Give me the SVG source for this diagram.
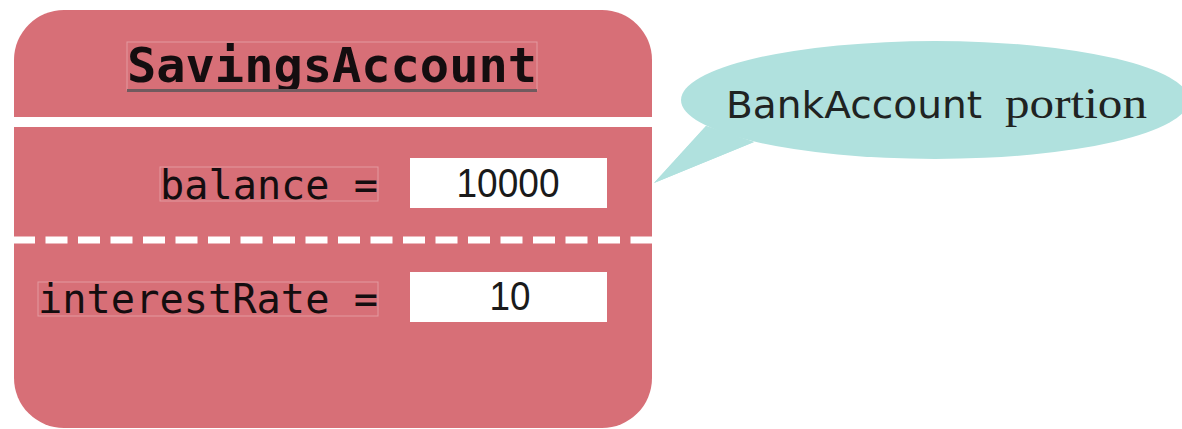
<svg xmlns="http://www.w3.org/2000/svg" width="1182" height="429" viewBox="0 0 1182 429">
<style>
.mono{font-family:"DejaVu Sans Mono","Liberation Mono",monospace;fill:#140d0f}
.val{font-family:"Liberation Sans","DejaVu Sans",sans-serif;fill:#1a1a1a;text-anchor:middle}
.tbox{fill:none;stroke:#e39aa0;stroke-width:1}
.vbox{fill:#ffffff}
</style>
<rect width="1182" height="429" fill="#ffffff"/>
<g id="connectors">
<path d="M706,126 L654,183 L754,142 Z" fill="#b0e1de"/>
</g>
<g id="bubble">
<ellipse cx="935" cy="100" rx="254" ry="59" fill="#b0e1de"/>
<path d="M706,126 L654,183 L754,142 Z" fill="#b0e1de"/>
<text x="726" y="118" font-family="DejaVu Sans, Liberation Sans, sans-serif" font-size="38" fill="#1f2322" textLength="256" lengthAdjust="spacingAndGlyphs">BankAccount</text>
<text x="1005" y="118" font-family="Liberation Serif, DejaVu Serif, serif" font-size="44" fill="#1f2322" textLength="142" lengthAdjust="spacingAndGlyphs">portion</text>
</g>
<g id="savingsAccount">
<rect x="14" y="10" width="638" height="418" rx="50" ry="50" fill="#d76f77"/>
<rect x="14" y="117" width="638" height="10" fill="#ffffff"/>
<line x1="13" y1="240" x2="652" y2="240" stroke="#ffffff" stroke-width="7" stroke-dasharray="22 10.5"/>
<rect class="tbox" x="127" y="42" width="410" height="48"/>
<text class="mono" x="127" y="82" font-size="48" font-weight="bold" textLength="410" lengthAdjust="spacingAndGlyphs">SavingsAccount</text>
<line x1="127" y1="90.5" x2="537" y2="90.5" stroke="#715a5e" stroke-width="3"/>
</g>
<g id="balance">
<rect class="tbox" x="160" y="167" width="218" height="34"/>
<text class="mono" x="378" y="199" font-size="40" text-anchor="end" textLength="218" lengthAdjust="spacingAndGlyphs">balance =</text>
<rect class="vbox" x="410" y="158" width="197" height="50"/>
<text class="val" x="508" y="197" font-size="40" textLength="103" lengthAdjust="spacingAndGlyphs">10000</text>
</g>
<g id="interestRate">
<rect class="tbox" x="38" y="282" width="340" height="34"/>
<text class="mono" x="378" y="313" font-size="40" text-anchor="end" textLength="340" lengthAdjust="spacingAndGlyphs">interestRate =</text>
<rect class="vbox" x="410" y="272" width="197" height="50"/>
<text class="val" x="510" y="310" font-size="40" textLength="41" lengthAdjust="spacingAndGlyphs">10</text>
</g>
</svg>
